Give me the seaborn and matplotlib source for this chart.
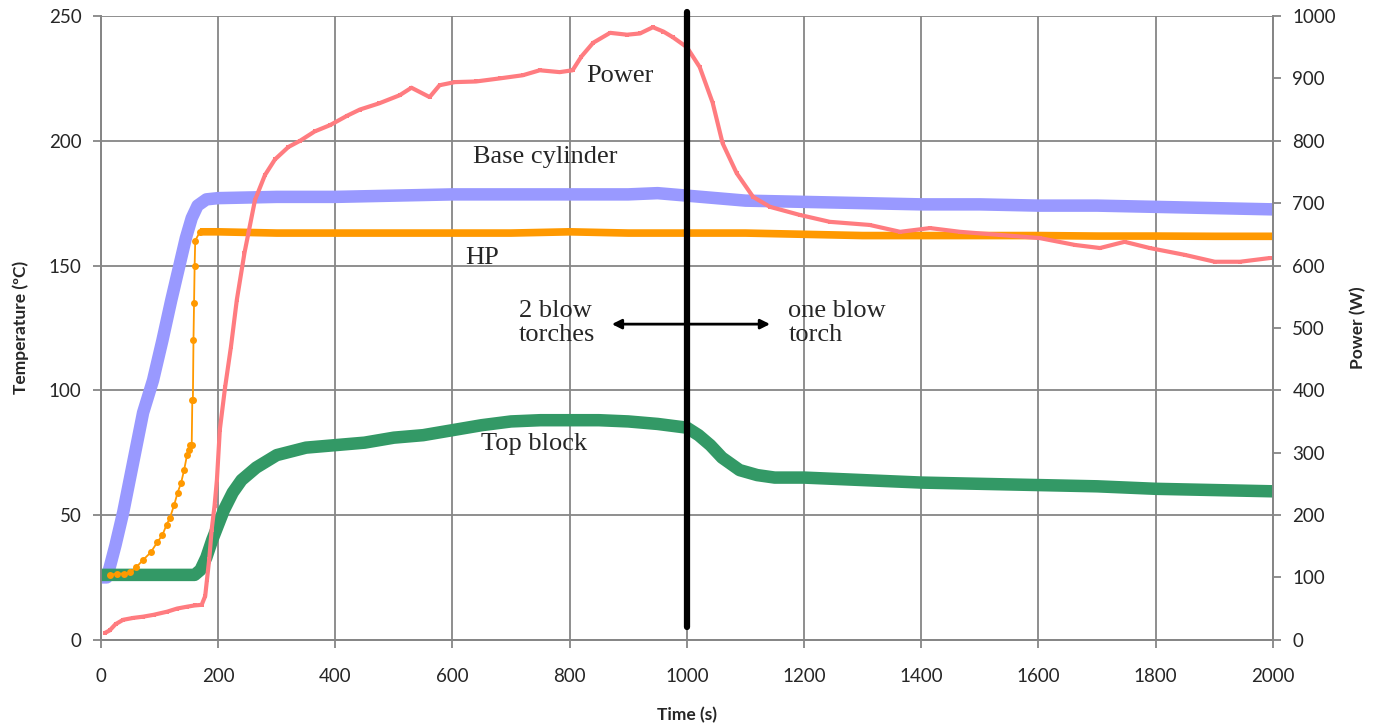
import numpy as np
import pandas as pd
import seaborn as sns
import matplotlib.pyplot as plt

# Base cylinder temperature (ºC)
base_t = [0, 10, 15, 25, 38, 55, 72, 89, 105, 120, 135, 145, 155, 165, 180, 200,
          300, 400, 500, 600, 700, 800, 900, 950, 1000, 1050, 1100, 1200, 1300,
          1400, 1500, 1600, 1700, 1800, 1900, 2000]
base_temp = [25, 25, 29, 38, 51, 71, 91, 104, 120, 136, 151, 161, 169, 174, 176.5, 177,
             177.5, 177.5, 178, 178.5, 178.5, 178.5, 178.5, 179, 178, 177, 176, 175.5, 175,
             174.5, 174.5, 174, 174, 173.5, 173, 172.5]

# HP temperature (ºC)
hp_t = [15, 27, 40, 50, 60, 72, 85, 96, 105, 112, 118, 125, 131, 137, 142, 147, 150,
        152, 155, 156, 157, 158, 159, 160, 161, 169, 200, 300, 400, 500, 600, 700, 800,
        900, 1000, 1100, 1200, 1300, 1400, 1500, 1600, 1700, 1800, 1900, 2000]
hp_temp = [26, 26.5, 26.5, 27, 29, 32, 35, 39, 42, 46, 49, 54, 59, 63, 68, 74, 76,
           78, 78, 96, 96, 120, 135, 150, 160, 163.5, 163.5, 163, 163, 163, 163, 163, 163.5,
           163, 163, 163, 162.5, 162, 162, 162, 162, 161.8, 161.8, 161.7, 161.7]

# Top block temperature (ºC)
top_t = [0, 100, 160, 170, 180, 190, 200, 210, 225, 240, 265, 300, 350, 400, 450, 500,
         550, 600, 650, 700, 750, 800, 850, 900, 950, 1000, 1020, 1040, 1060, 1090,
         1120, 1150, 1200, 1300, 1400, 1500, 1600, 1700, 1800, 1900, 2000]
top_temp = [26, 26, 26, 28, 33, 40, 46, 52, 59, 64, 69, 74, 77, 78, 79, 81,
            82, 84, 86, 87.5, 88, 88, 88, 87.5, 86.5, 85, 82, 78, 73, 68,
            66, 65, 65, 64, 63, 62.5, 62, 61.5, 60.5, 60, 59.5]

# Power (W), right axis
power_t = [7, 15, 25, 38, 55, 72, 90, 113, 130, 147, 160, 172, 178, 181, 185, 189, 194,
           198, 203, 212, 222, 232, 245, 263, 280, 297, 320, 340, 365, 391, 420, 442,
           475, 510, 530, 561, 578, 604, 640, 681, 720, 749, 783, 805, 820, 840, 869,
           898, 920, 942, 960, 976, 1000, 1022, 1044, 1061, 1085, 1113, 1142, 1193,
           1244, 1312, 1364, 1415, 1466, 1534, 1602, 1662, 1705, 1747, 1790, 1850,
           1901, 1944, 1995]
power_w = [11, 15, 25, 32, 35, 37, 40, 45, 50, 53, 55, 56, 70, 96, 130, 176, 215,
           256, 337, 405, 470, 545, 620, 705, 745, 770, 790, 800, 815, 825, 840, 850,
           860, 873, 885, 870, 889, 894, 895, 900, 905, 913, 910, 913, 935, 957, 973,
           970, 972, 982, 975, 966, 950, 918, 861, 796, 748, 710, 694, 681,
           670, 665, 654, 660, 654, 649, 644, 633, 628, 638, 628, 617,
           606, 606, 612]

divider_x = 1000
x_ticks = list(range(0, 2001, 200))
temp_ticks = list(range(0, 251, 50))
power_ticks = list(range(0, 1001, 100))

sns.set_style('white')
plt.rcParams['font.family'] = ['Lato', 'DejaVu Sans']

grid_col = '#868686'

fig = plt.figure(figsize=(13.82, 7.27), dpi=100)
ax = fig.add_axes([0.073, 0.12, 0.848, 0.858])

sns.lineplot(x=base_t, y=base_temp, ax=ax, color='#9999FF', lw=9,
             solid_capstyle='butt', zorder=3)
hp_split = hp_t.index(169)
sns.lineplot(x=hp_t[:hp_split + 1], y=hp_temp[:hp_split + 1], ax=ax, color='#FF9900',
             lw=1.3, marker='o', markersize=5, markeredgewidth=0, zorder=4)
sns.lineplot(x=hp_t[hp_split:], y=hp_temp[hp_split:], ax=ax, color='#FF9900',
             lw=5.5, solid_capstyle='butt', zorder=4)
sns.lineplot(x=top_t, y=top_temp, ax=ax, color='#339966', lw=9,
             solid_capstyle='butt', zorder=3)

ax.set_xlim(0, 2000)
ax.set_ylim(0, 250)
ax.set_xticks(x_ticks)
ax.set_yticks(temp_ticks)
ax.grid(True, color=grid_col, lw=1.3)
ax.set_axisbelow(True)
ax.tick_params(axis='both', labelsize=13.5, length=6, color=grid_col, width=1.3,
               direction='out', left=True, bottom=True)
ax.tick_params(axis='x', pad=14)
ax.tick_params(axis='y', pad=8)
ax.set_xlabel('Time (s)', fontsize=12.5, fontweight='bold', labelpad=16)
ax.set_ylabel('Temperature (ºC)', fontsize=12.5, fontweight='bold', labelpad=14)
for side in ['left', 'bottom', 'right', 'top']:
    ax.spines[side].set_color(grid_col)
    ax.spines[side].set_linewidth(1.3)
ax.spines['top'].set_visible(False)

ax2 = ax.twinx()
sns.lineplot(x=power_t, y=power_w, ax=ax2, color='#FF7C80', lw=3, marker='s',
             markersize=3, markeredgewidth=0)
ax2.set_ylim(0, 1000)
ax2.set_yticks(power_ticks)
ax2.tick_params(axis='y', labelsize=13.5, length=6, color=grid_col, width=1.3,
                direction='out', pad=8, right=True)
ax2.set_ylabel('Power (W)', fontsize=12.5, fontweight='bold', labelpad=10)
for side in ['left', 'bottom', 'right', 'top']:
    ax2.spines[side].set_color(grid_col)
    ax2.spines[side].set_linewidth(1.3)
ax2.spines['top'].set_visible(False)

ax2.axvline(divider_x, ymin=0.02, ymax=1.006, color='black', lw=4.5, clip_on=False)

serif = ['Liberation Serif', 'DejaVu Serif']
tr = ax.transData
ax2.text(886, 226, 'Power', transform=tr, fontsize=19, family=serif, ha='center', va='center')
ax2.text(759, 193.5, 'Base cylinder', transform=tr, fontsize=19, family=serif, ha='center', va='center')
ax2.text(650, 153, 'HP', transform=tr, fontsize=19, family=serif, ha='center', va='center')
ax2.text(739, 78.5, 'Top block', transform=tr, fontsize=19, family=serif, ha='center', va='center')
ax2.text(713, 127, '2 blow\ntorches', transform=tr, fontsize=19, family=serif, ha='left',
         va='center', linespacing=1.1)
ax2.text(1173, 127, 'one blow\ntorch', transform=tr, fontsize=19, family=serif, ha='left',
         va='center', linespacing=1.1)
ax2.annotate('', xy=(872, 126.5), xytext=(1142, 126.5), xycoords=tr, textcoords=tr,
             arrowprops=dict(arrowstyle='<|-|>', color='black', lw=2, mutation_scale=14,
                             shrinkA=0, shrinkB=0))

fig.savefig('out.png', dpi=100)
